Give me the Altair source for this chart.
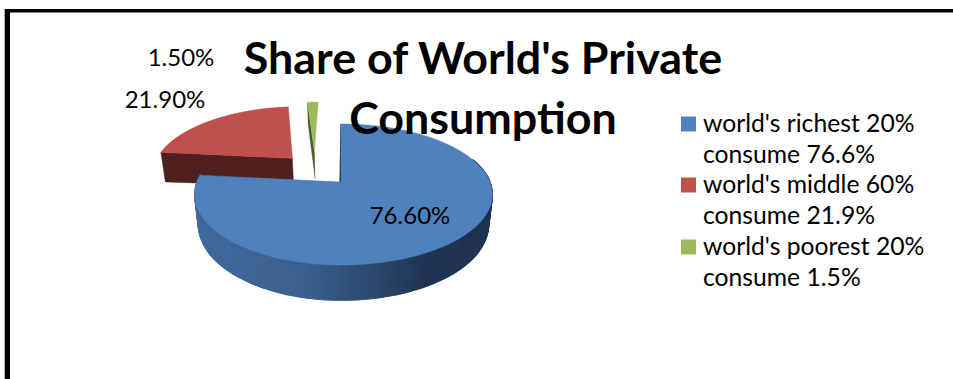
import math
import altair as alt
import pandas as pd

# Chart values
shares = [76.6, 21.9, 1.5]
face_colors = ["#4F81BD", "#C0504D", "#9BBB59"]
legend_lines = [
    ["world's richest 20%", "consume 76.6%"],
    ["world's middle 60%", "consume 21.9%"],
    ["world's poorest 20%", "consume 1.5%"],
]
title_lines = ["Share of World's Private", "Consumption"]
FONT = "Lato"

W, H = 953, 379

# Perspective model of the tilted pie, in screen pixels
CX, CY = 341, 182
AX_LEFT, AX_RIGHT, AY, K = 144, 149, 68.3, 0.177
DEPTH = 29
SHRINK = 0.975
# Slice displacement in the pie's own plane (right, towards viewer)
explode = [(0.0, 0.0), (-0.36, -0.37), (-0.2, -0.477)]


def top(u, v):
    d = 1 - K * v
    return [CX + (AX_RIGHT if u > 0 else AX_LEFT) * u / d, CY + AY * v / d]


def bottom(u, v, depth=DEPTH):
    x, y = top(u, v)
    return [CX + (x - CX) * SHRINK, y + depth / (1 - K * v)]


def rim(theta, off):
    a = math.radians(theta)
    return math.sin(a) + off[0], -math.cos(a) + off[1]


def feature(points, fill, stroke=None, width=0.0):
    ring = points + [points[0]]
    return {
        "type": "Feature",
        "geometry": {"type": "Polygon", "coordinates": [ring]},
        "properties": {"fill": fill, "stroke": stroke or fill, "sw": width},
    }


def arc_points(start, end, off):
    n = max(2, int(abs(end - start)))
    return [rim(start + (end - start) * i / n, off) for i in range(n + 1)]


def hex_mix(c1, c2, t):
    a = [int(c1[i:i + 2], 16) for i in (1, 3, 5)]
    b = [int(c2[i:i + 2], 16) for i in (1, 3, 5)]
    return "#%02x%02x%02x" % tuple(round(p + (q - p) * t) for p, q in zip(a, b))


# Shading of the blue outer wall, from left to right
wall_stops = [(195, "#41699b"), (300, "#3a6190"), (380, "#2b4769"), (425, "#1f3452"), (495, "#1f3350")]


def wall_color(x):
    for (x0, c0), (x1, c1) in zip(wall_stops, wall_stops[1:]):
        if x <= x1:
            return hex_mix(c0, c1, max(0.0, (x - x0) / (x1 - x0)))
    return wall_stops[-1][1]


edges = [0.0]
for s in shares:
    edges.append(edges[-1] + s / sum(shares) * 360)

features = []

# Red slice: cut wall towards the viewer, then its top face
off = explode[1]
p0 = rim(edges[1], off)
features.append(feature([top(*p0), top(*off), bottom(*off, 30), bottom(*p0, 32)], "#4e1f1d", width=0.5))
features.append(feature([top(*off)] + [top(*p) for p in arc_points(edges[1], edges[2], off)], face_colors[1], width=0.5))

# Green slice
off = explode[2]
p0 = rim(edges[2], off)
features.append(feature([top(*p0), top(*off), bottom(*off), bottom(*p0)], "#4a5a2a", width=0.3))
features.append(feature([top(*off)] + [top(*p) for p in arc_points(edges[2], edges[3], off)], face_colors[2], width=0.3))

# Blue slice: outer wall in narrow strips, a sliver of its cut face, then the top face
off = explode[0]
step = 1.0
t = 70.0
while t < edges[1]:
    t2 = min(t + step, edges[1])
    a, b = rim(t, off), rim(t2, off)
    col = wall_color((top(*a)[0] + top(*b)[0]) / 2)
    features.append(feature([top(*a), top(*b), bottom(*b), bottom(*a)], col, width=1.2))
    t = t2
apex = top(*off)
crown = top(*rim(0.0, off))
features.append(feature([apex, crown, [crown[0] - 0.6, crown[1]], [apex[0] - 1.6, apex[1]]], "#1f3350"))
features.append(feature([top(*off)] + [top(*p) for p in arc_points(edges[0], edges[1], off)], face_colors[0], width=0.5))

pie = (
    alt.Chart(alt.InlineData(values=features, format=alt.DataFormat(type="json")))
    .mark_geoshape()
    .encode(
        fill=alt.Fill("properties.fill:N", scale=None),
        stroke=alt.Stroke("properties.stroke:N", scale=None),
        strokeWidth=alt.StrokeWidth("properties.sw:Q", scale=None),
    )
    .project(type="identity", scale=1, translate=[0, 0])
)

px = alt.X("x:Q", scale=None, axis=None)
py = alt.Y("y:Q", scale=None, axis=None)


def text_layer(rows, size, align="left", weight="normal"):
    return (
        alt.Chart(pd.DataFrame(rows))
        .mark_text(font=FONT, fontSize=size, align=align, baseline="middle", color="#000000", fontWeight=weight)
        .encode(x=px, y=py, text="t:N")
    )


# Frame lines along the top and left
frame = pd.DataFrame(
    [
        {"x": 5, "x2": W, "y": 10.8, "y2": 10.8, "w": 3.6, "c": "#000000"},
        {"x": 7.5, "x2": 7.5, "y": 9, "y2": H, "w": 5, "c": "#000000"},
        {"x": 4.5, "x2": 4.5, "y": 9, "y2": H, "w": 1, "c": "#a8a8a8"},
    ]
)
frame_layer = (
    alt.Chart(frame)
    .mark_rule()
    .encode(
        x=px,
        x2="x2:Q",
        y=py,
        y2="y2:Q",
        strokeWidth=alt.StrokeWidth("w:Q", scale=None),
        color=alt.Color("c:N", scale=None),
    )
)

data_labels = text_layer(
    [
        {"x": 410, "y": 217, "t": f"{shares[0]:.2f}%"},
        {"x": 165, "y": 101, "t": f"{shares[1]:.2f}%"},
        {"x": 181, "y": 59, "t": f"{shares[2]:.2f}%"},
    ],
    24,
    align="center",
)

title_layer = text_layer(
    [
        {"x": 483, "y": 61, "t": title_lines[0]},
        {"x": 483, "y": 121, "t": title_lines[1]},
    ],
    44.8,
    align="center",
    weight="bold",
)

legend_y = [124, 185, 247]
line_gap = 31
legend_text = text_layer(
    [
        {"x": 703, "y": y + 1 + i * line_gap, "t": line}
        for y, pair in zip(legend_y, legend_lines)
        for i, line in enumerate(pair)
    ],
    24.7,
)
swatches = (
    alt.Chart(pd.DataFrame({"x": [688.5] * 3, "y": legend_y, "c": face_colors}))
    .mark_square(size=225, opacity=1)
    .encode(x=px, y=py, color=alt.Color("c:N", scale=None))
)

chart = (
    alt.layer(frame_layer, pie, data_labels, title_layer, swatches, legend_text)
    .properties(width=W, height=H, padding=0, background="#ffffff", autosize=alt.AutoSizeParams(type="none"))
    .configure_view(stroke=None)
)

chart.save("out.html", embed_options={"renderer": "svg", "actions": False})
